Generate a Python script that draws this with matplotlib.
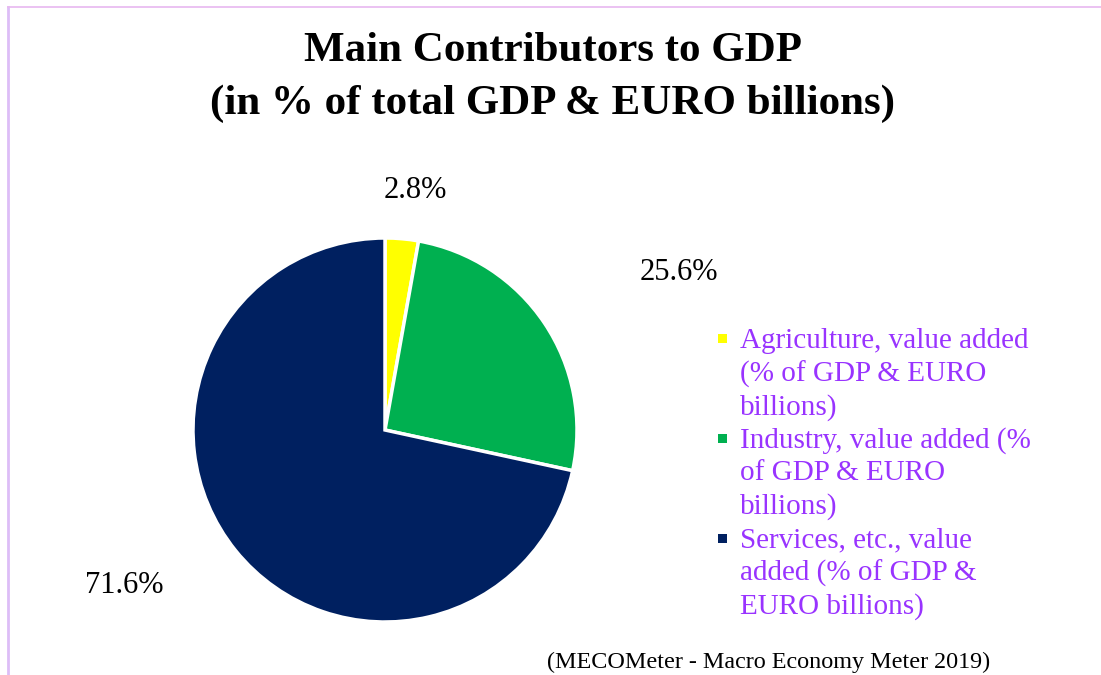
import matplotlib
matplotlib.use('Agg')
import matplotlib.pyplot as plt
from matplotlib.lines import Line2D
from matplotlib.patches import Rectangle

plt.rcParams['font.family'] = ['Liberation Serif', 'DejaVu Serif']

# GDP breakdown, 2019
sectors = ["Agriculture, value added\n(% of GDP & EURO\nbillions)",
           "Industry, value added (%\nof GDP & EURO\nbillions)",
           "Services, etc., value\nadded (% of GDP &\nEURO billions)"]
shares = [2.8, 25.6, 71.6]
colors = ['#FFFF00', '#00B050', '#002060']

# where each percentage label sits, in pie-radius units from the centre
label_pos = [(0.16, 1.25), (1.53, 0.82), (-1.36, -0.81)]

W, H = 1101, 675
fig = plt.figure(figsize=(W / 100, H / 100), dpi=100)
fig.patch.set_facecolor('white')

# thin frame lines along the top and left edge
fig.add_artist(Line2D([8 / W, 8 / W], [0, 1 - 7 / H], color='#DDBDF7', lw=2))
fig.add_artist(Line2D([8 / W, 1], [1 - 7 / H, 1 - 7 / H], color='#E8B8F0', lw=1.2))

fig.text(0.502, 1 - 51 / H, 'Main Contributors to GDP', ha='center', va='center',
         fontsize=31, fontweight='bold')
fig.text(0.502, 1 - 104 / H, '(in % of total GDP & EURO billions)', ha='center', va='center',
         fontsize=31, fontweight='bold')

cx, cy, r = 385, 430, 192
ax = fig.add_axes([(cx - r) / W, (H - cy - r) / H, 2 * r / W, 2 * r / H])
wedges, _ = ax.pie(shares, colors=colors, startangle=90, counterclock=False,
                   wedgeprops=dict(edgecolor='white', linewidth=2.5))
ax.set_xlim(-1, 1)
ax.set_ylim(-1, 1)
ax.set_aspect('equal')

for val, (x, y) in zip(shares, label_pos):
    ax.text(x, y, f'{val:.1f}%', ha='center', va='center', fontsize=22, clip_on=False)

# legend: square key beside the first line of each wrapped label
purple = '#9933FF'
key = 9
for i, (name, c) in enumerate(zip(sectors, colors)):
    y_first = 339 + i * 99.5
    fig.text(740 / W, 1 - (y_first - 11) / H, name, ha='left', va='top',
             fontsize=21, color=purple, linespacing=1.3)
    fig.add_artist(Rectangle((718 / W, 1 - (y_first + key / 2) / H), key / W, key / H,
                             facecolor=c, edgecolor='none', transform=fig.transFigure))

fig.text(769 / W, 1 - 662 / H, '(MECOMeter - Macro Economy Meter 2019)',
         ha='center', va='center', fontsize=17.4)

plt.savefig('out.png', dpi=100, facecolor='white')
plt.close()
